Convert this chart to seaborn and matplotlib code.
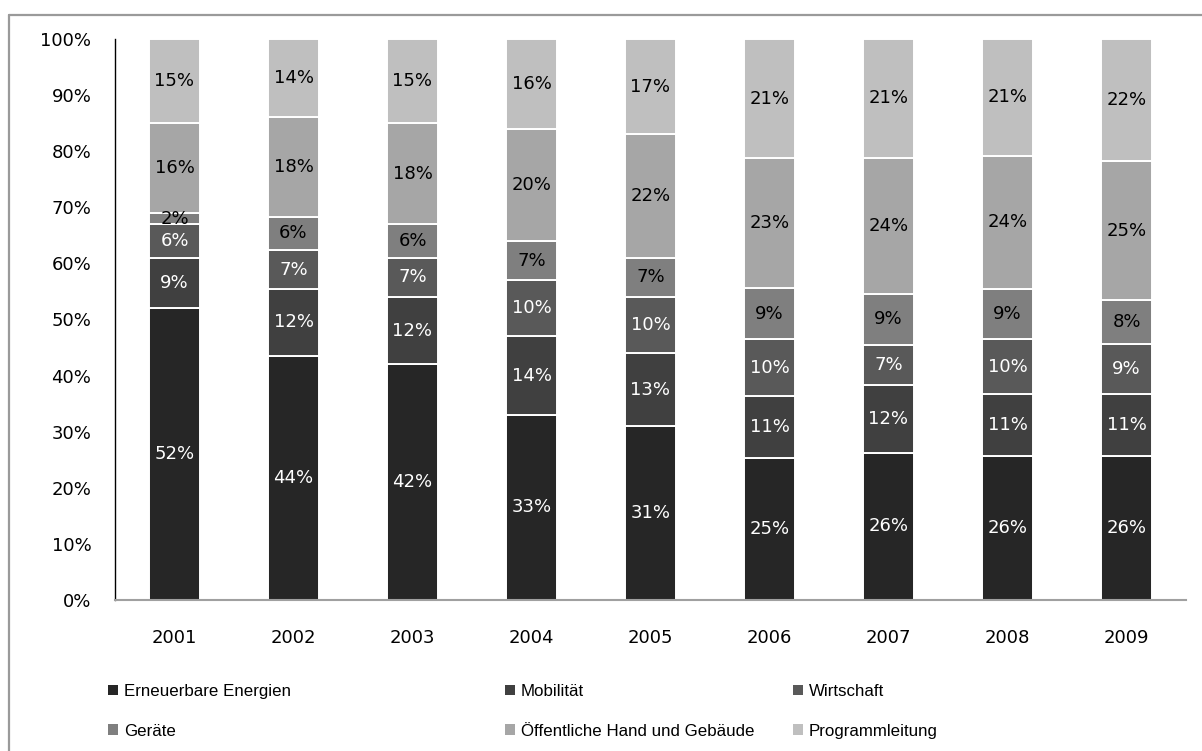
import numpy as np
import pandas as pd
import matplotlib
matplotlib.use("Agg")
import matplotlib.pyplot as plt
import matplotlib.lines as mlines
import matplotlib.patches as mpatches
from matplotlib.ticker import PercentFormatter
import seaborn as sns

# Shares per programme area and year (percent, as labelled)
years = ["2001", "2002", "2003", "2004", "2005", "2006", "2007", "2008", "2009"]
categories = ["Erneuerbare Energien", "Mobilität", "Wirtschaft", "Geräte",
              "Öffentliche Hand und Gebäude", "Programmleitung"]
erneuerbare = [52, 44, 42, 33, 31, 25, 26, 26, 26]
mobilitaet = [9, 12, 12, 14, 13, 11, 12, 11, 11]
wirtschaft = [6, 7, 7, 10, 10, 10, 7, 10, 9]
geraete = [2, 6, 6, 7, 7, 9, 9, 9, 8]
oeffentlich = [16, 18, 18, 20, 22, 23, 24, 24, 25]
programmleitung = [15, 14, 15, 16, 17, 21, 21, 21, 22]

series = [erneuerbare, mobilitaet, wirtschaft, geraete, oeffentlich, programmleitung]
colors = ["#262626", "#404040", "#595959", "#7f7f7f", "#a6a6a6", "#bfbfbf"]
text_colors = ["white", "white", "white", "black", "black", "black"]

sns.set_theme(style="white")
plt.rcParams["font.family"] = ["DejaVu Sans"]
plt.rcParams["font.sans-serif"] = ["DejaVu Sans"]

W, H = 1202, 751
fig = plt.figure(figsize=(W / 100, H / 100), dpi=100)
ax = fig.add_axes([115 / W, 1 - 600 / H, (1186 - 115) / W, (600 - 39) / H])

values = np.array(series, dtype=float)
totals = values.sum(axis=0)
shares = values / totals  # 100 % stacked
bottom = np.zeros(len(years))

label_font = dict(family="DejaVu Sans", size=13)

for i, cat in enumerate(categories):
    df = pd.DataFrame({"Jahr": years, "Anteil": shares[i]})
    sns.barplot(data=df, x="Jahr", y="Anteil", bottom=bottom, color=colors[i],
                width=0.43, edgecolor="white", linewidth=1.4, ax=ax,
                saturation=1, label=cat)
    for j in range(len(years)):
        ax.text(j, bottom[j] + shares[i][j] / 2, f"{series[i][j]}%",
                ha="center", va="center", color=text_colors[i], **label_font)
    bottom = bottom + shares[i]

ax.set_xlim(-0.5, len(years) - 0.5)
ax.set_ylim(0, 1)
ax.set_yticks(np.linspace(0, 1, 11))
ax.yaxis.set_major_formatter(PercentFormatter(1.0, decimals=0))
ax.set_xlabel("")
ax.set_ylabel("")
ax.tick_params(axis="y", length=0, pad=17, labelcolor="black")
ax.tick_params(axis="x", length=0, pad=21, labelcolor="black")
for lbl in ax.get_xticklabels() + ax.get_yticklabels():
    lbl.set_fontfamily("DejaVu Sans")
    lbl.set_fontsize(13)
for side in ["top", "right"]:
    ax.spines[side].set_visible(False)
ax.spines["left"].set_color("black")
ax.spines["left"].set_linewidth(1.0)
ax.spines["bottom"].set_color("#a0a0a0")
ax.spines["bottom"].set_linewidth(1.5)
ax.grid(False)
if ax.get_legend() is not None:
    ax.get_legend().remove()

# Legend: three columns of two entries each
legend_font = {"family": "Liberation Sans", "size": 12.2}
columns = [(108, [0, 3]), (505, [1, 4]), (793, [2, 5])]
for x0, idx in columns:
    handles = [mpatches.Patch(facecolor=colors[k], edgecolor="none", label=categories[k])
               for k in idx]
    fig.legend(handles=handles, loc="upper left",
               bbox_to_anchor=(x0 / W, 1 - 684 / H),
               frameon=False, prop=legend_font, borderpad=0, borderaxespad=0,
               handlelength=0.6, handleheight=0.6, handletextpad=0.35,
               labelspacing=1.45, labelcolor="black")

# Chart frame
frame_kw = dict(color="#9a9a9a", linewidth=1.6, transform=fig.transFigure)
fig.add_artist(mlines.Line2D([9 / W, 1.0], [1 - 15 / H, 1 - 15 / H], **frame_kw))
fig.add_artist(mlines.Line2D([9 / W, 9 / W], [0.0, 1 - 15 / H], **frame_kw))

fig.savefig("out.png", dpi=100, facecolor="white")
